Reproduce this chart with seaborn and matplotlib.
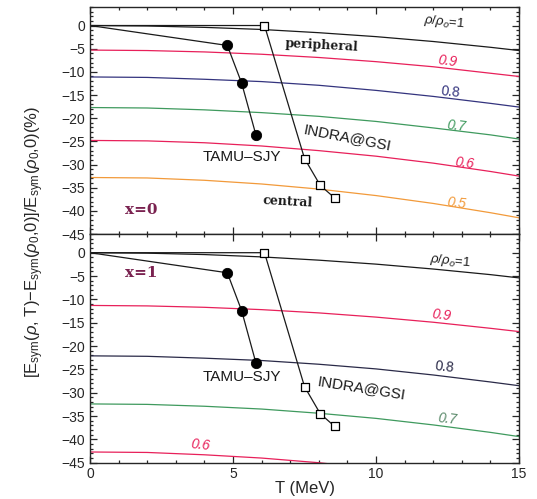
import numpy as np
import pandas as pd
import matplotlib
matplotlib.use("Agg")
import matplotlib.pyplot as plt
from matplotlib.ticker import MultipleLocator
import seaborn as sns

sns.set_style("ticks")
plt.rcParams["font.family"] = ["Liberation Sans", "DejaVu Sans"]
plt.rcParams["mathtext.fontset"] = "custom"
plt.rcParams["mathtext.rm"] = "Liberation Sans"
plt.rcParams["mathtext.it"] = "Liberation Sans:italic"

# temperature grid (MeV)
T_grid = [0, 2, 4, 6, 8, 10, 12, 14, 15]

# relative change of the symmetry energy (%), x = 0
x0_rho10 = [0, -0.1, -0.4, -0.85, -1.55, -2.4, -3.45, -4.7, -5.4]
x0_rho09 = [-5.3, -5.4, -5.7, -6.2, -6.9, -7.8, -8.9, -10.3, -11.0]
x0_rho08 = [-11.1, -11.2, -11.6, -12.1, -12.9, -14.0, -15.3, -16.8, -17.6]
x0_rho07 = [-17.7, -17.8, -18.2, -18.8, -19.6, -20.7, -22.1, -23.6, -24.5]
x0_rho06 = [-24.8, -24.9, -25.3, -26.0, -27.0, -28.2, -29.7, -31.5, -32.5]
x0_rho05 = [-32.8, -32.9, -33.4, -34.2, -35.3, -36.7, -38.4, -40.4, -41.5]

# relative change of the symmetry energy (%), x = 1
x1_rho10 = [0, -0.1, -0.4, -0.9, -1.6, -2.45, -3.5, -4.7, -5.4]
x1_rho09 = [-11.3, -11.4, -11.7, -12.2, -12.9, -13.8, -14.9, -16.2, -16.9]
x1_rho08 = [-22.1, -22.2, -22.6, -23.1, -23.9, -24.9, -26.2, -27.7, -28.5]
x1_rho07 = [-32.4, -32.5, -32.9, -33.5, -34.4, -35.5, -36.9, -38.5, -39.4]
x1_rho06 = [-42.7, -42.8, -43.3, -44.0, -45.0, -46.3, -47.9, -49.8, -50.8]

# experimental points
tamu_T = [4.8, 5.3, 5.8]
tamu_E = [-4.3, -12.4, -23.6]
indra_T = [6.1, 7.5, 8.05, 8.55]
indra_E = [0.0, -28.7, -34.5, -37.2]

c_black = "#1a1a1a"
c_red = "#e8205a"
c_navy = "#34347e"
c_green = "#3f9a5e"
c_orange = "#f29a3a"
c_dark = "#2a2a48"

top_curves = [("1", x0_rho10, c_black), ("0.9", x0_rho09, c_red),
              ("0.8", x0_rho08, c_navy), ("0.7", x0_rho07, c_green),
              ("0.6", x0_rho06, c_red), ("0.5", x0_rho05, c_orange)]
bot_curves = [("1", x1_rho10, c_black), ("0.9", x1_rho09, c_red),
              ("0.8", x1_rho08, c_dark), ("0.7", x1_rho07, c_green),
              ("0.6", x1_rho06, c_red)]

fig = plt.figure(figsize=(5.37, 4.99), dpi=100)
ax_top = fig.add_axes([0.1676, 0.531, 0.799, 0.455])
ax_bot = fig.add_axes([0.1676, 0.0727, 0.799, 0.4583])


def draw_panel(ax, curves):
    frames = []
    for name, vals, col in curves:
        frames.append(pd.DataFrame({"T": T_grid, "E": vals, "rho": name}))
    df = pd.concat(frames, ignore_index=True)
    palette = {name: col for name, _, col in curves}
    sns.lineplot(data=df, x="T", y="E", hue="rho", palette=palette,
                 linewidth=0.9, legend=False, ax=ax, sort=False)

    # data sets, each joined to the origin
    tamu = pd.DataFrame({"T": [0] + tamu_T, "E": [0] + tamu_E})
    indra = pd.DataFrame({"T": [0] + indra_T, "E": [0] + indra_E})
    sns.lineplot(data=tamu, x="T", y="E", color=c_black, linewidth=0.9,
                 sort=False, ax=ax)
    sns.lineplot(data=indra, x="T", y="E", color=c_black, linewidth=0.9,
                 sort=False, ax=ax)
    sns.scatterplot(x=tamu_T, y=tamu_E, color="black", s=55,
                    edgecolor="black", zorder=5, ax=ax)
    sns.scatterplot(x=indra_T, y=indra_E, marker="s", s=30,
                    facecolor="white", edgecolor="black", linewidth=0.9,
                    zorder=5, ax=ax)

    ax.set_xlim(0, 15)
    ax.set_ylim(-45, 4)
    ax.xaxis.set_major_locator(MultipleLocator(5))
    ax.xaxis.set_minor_locator(MultipleLocator(1))
    ax.yaxis.set_major_locator(MultipleLocator(5))
    ax.yaxis.set_minor_locator(MultipleLocator(1))
    ax.tick_params(which="both", direction="in", top=True, right=True,
                   labelsize=10, width=0.9)
    ax.tick_params(which="major", length=5)
    ax.tick_params(which="minor", length=2.5)
    ax.tick_params(axis="x", pad=3)
    for sp in ax.spines.values():
        sp.set_linewidth(1.0)
    ax.set_xlabel("")
    ax.set_ylabel("")


draw_panel(ax_top, top_curves)
draw_panel(ax_bot, bot_curves)
ax_top.tick_params(labelbottom=False)
ax_bot.set_xlabel("T (MeV)", fontsize=12, labelpad=0)

serif_bold = dict(family="DejaVu Serif", fontweight="bold")
lab = dict(fontsize=10)

# top panel annotations
ax_top.text(12.4, 0.8, r"$\rho/\rho_o$=1", color=c_black, fontsize=9.5,
            rotation=-6, ha="center", va="center")
ax_top.text(8.1, -4.3, "peripheral", color=c_black, fontsize=9,
            rotation=-3, ha="center", va="center", **serif_bold)
ax_top.text(12.5, -7.8, "0.9", color=c_red, rotation=-7, ha="center",
            va="center", style="italic", **lab)
ax_top.text(12.6, -14.3, "0.8", color=c_navy, rotation=-6, ha="center",
            va="center", **lab)
ax_top.text(12.8, -21.7, "0.7", color=c_green, rotation=-6, ha="center",
            va="center", style="italic", **lab)
ax_top.text(9.0, -24.2, "INDRA@GSI", color=c_black, rotation=-11,
            ha="center", va="center", fontsize=11)
ax_top.text(13.1, -29.8, "0.6", color=c_red, rotation=-7, ha="center",
            va="center", style="italic", **lab)
ax_top.text(12.8, -38.3, "0.5", color=c_orange, rotation=-7, ha="center",
            va="center", style="italic", **lab)
ax_top.text(6.9, -38.1, "central", color=c_black, fontsize=9, rotation=-3,
            ha="center", va="center", **serif_bold)
ax_top.text(5.3, -28.3, "TAMU\u2013SJY", color=c_black, ha="center",
            va="center", fontsize=11)
ax_top.text(1.8, -39.9, "x=0", color="#7a2250", fontsize=11, ha="center",
            va="center", **serif_bold)

# bottom panel annotations
ax_bot.text(12.6, -1.9, r"$\rho/\rho_o$=1", color=c_black, fontsize=9.5,
            rotation=-6, ha="center", va="center")
ax_bot.text(12.3, -13.3, "0.9", color=c_red, rotation=-7, ha="center",
            va="center", style="italic", **lab)
ax_bot.text(12.4, -24.5, "0.8", color=c_dark, rotation=-6, ha="center",
            va="center", **lab)
ax_bot.text(9.5, -29.0, "INDRA@GSI", color=c_black, rotation=-9,
            ha="center", va="center", fontsize=11)
ax_bot.text(12.5, -35.7, "0.7", color="#5a8a6a", rotation=-6, ha="center",
            va="center", style="italic", **lab)
ax_bot.text(5.3, -26.6, "TAMU\u2013SJY", color=c_black, ha="center",
            va="center", fontsize=11)
ax_bot.text(3.85, -41.3, "0.6", color=c_red, rotation=-6, ha="center",
            va="center", style="italic", **lab)
ax_bot.text(1.8, -4.3, "x=1", color="#7a2250", fontsize=11, ha="center",
            va="center", **serif_bold)

fig.text(0.064, 0.515,
         r"[E$_{\rm sym}$($\rho$, T)$-$E$_{\rm sym}$($\rho_0$,0)]/E$_{\rm sym}$($\rho_0$,0)(%)",
         rotation=90, ha="center", va="center", fontsize=12)

fig.savefig("out.png", dpi=100)
